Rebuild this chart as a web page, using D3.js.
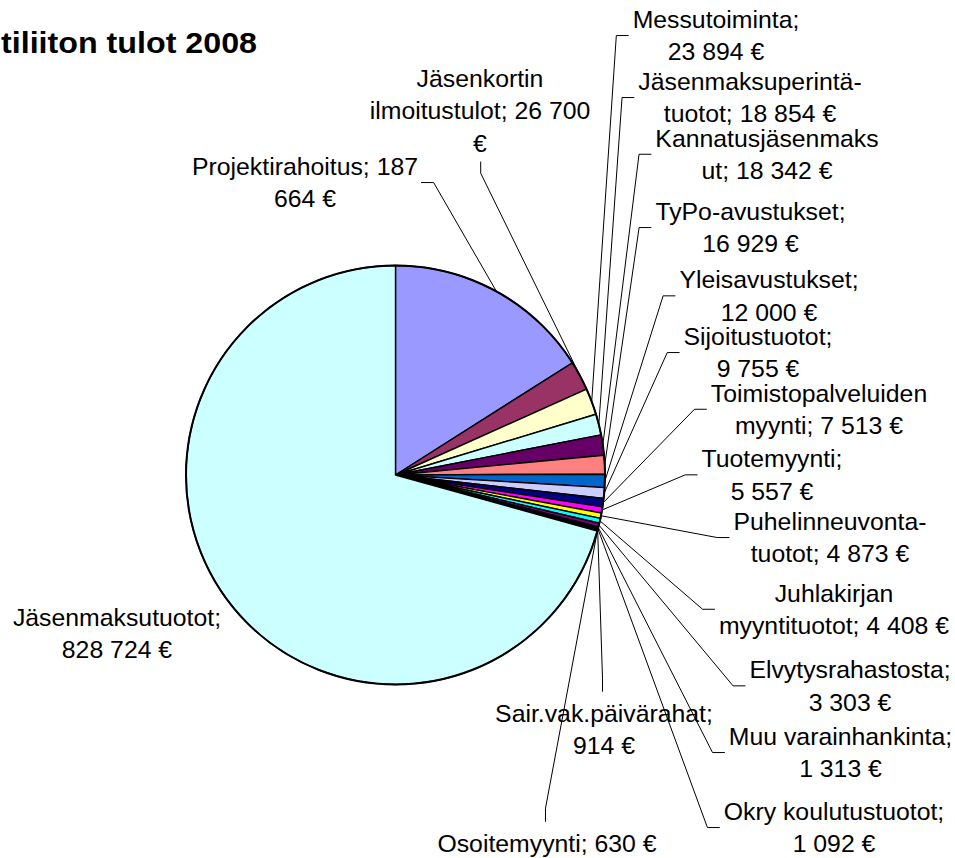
<!DOCTYPE html>
<html>
<head>
<meta charset="utf-8">
<script src="https://cdn.jsdelivr.net/npm/d3@7"></script>
<style>
  body { margin: 0; background: #fff; }
  text { font-family: "Liberation Sans", Arial, sans-serif; }
</style>
</head>
<body>
<div id="chart"></div>
<script>
var svgWidth = 955;
var svgHeight = 858;

// slices, clockwise from 12 o'clock
var categories = ["Projektirahoitus", "Jäsenkortin ilmoitustulot", "Messutoiminta",
    "Jäsenmaksuperintätuotot", "Kannatusjäsenmaksut", "TyPo-avustukset", "Yleisavustukset",
    "Sijoitustuotot", "Toimistopalveluiden myynti", "Tuotemyynti", "Puhelinneuvontatuotot",
    "Juhlakirjan myyntituotot", "Elvytysrahastosta", "Muu varainhankinta", "Okry koulutustuotot",
    "Sair.vak.päivärahat", "Osoitemyynti", "Jäsenmaksutuotot"];
var values = [187664, 26700, 23894, 18854, 18342, 16929, 12000, 9755, 7513, 5557,
    4873, 4408, 3303, 1313, 1092, 914, 630, 828724];

// label text as wrapped in the chart
var labelLines = [
    ["Projektirahoitus; 187", "664 €"],
    ["Jäsenkortin", "ilmoitustulot; 26 700", "€"],
    ["Messutoiminta;", "23 894 €"],
    ["Jäsenmaksuperintä-", "tuotot; 18 854 €"],
    ["Kannatusjäsenmaks", "ut; 18 342 €"],
    ["TyPo-avustukset;", "16 929 €"],
    ["Yleisavustukset;", "12 000 €"],
    ["Sijoitustuotot;", "9 755 €"],
    ["Toimistopalveluiden", "myynti; 7 513 €"],
    ["Tuotemyynti;", "5 557 €"],
    ["Puhelinneuvonta-", "tuotot; 4 873 €"],
    ["Juhlakirjan", "myyntituotot; 4 408 €"],
    ["Elvytysrahastosta;", "3 303 €"],
    ["Muu varainhankinta;", "1 313 €"],
    ["Okry koulutustuotot;", "1 092 €"],
    ["Sair.vak.päivärahat;", "914 €"],
    ["Osoitemyynti; 630 €"],
    ["Jäsenmaksutuotot;", "828 724 €"]
];

var colors = ["#9999FF", "#993366", "#FFFFCC", "#CCFFFF", "#660066", "#FF8080", "#0066CC",
    "#CCCCFF", "#000080", "#FF00FF", "#FFFF00", "#00FFFF", "#800080", "#800000",
    "#008080", "#0000FF", "#00CCFF", "#CCFFFF"];

// label placement: text centre x, first baseline y, side the leader comes from
var labelPos = [
    [305, 175, "left"], [480, 87, "top"], [716, 28, "right"], [750, 90, "right"],
    [767, 146.7, "right"], [750.5, 220, "right"], [769, 288.3, "right"], [758, 345, "right"],
    [819, 401.7, "right"], [772, 467.3, "right"], [830, 530, "right"], [834, 601.7, "right"],
    [850, 678.3, "right"], [840.5, 745, "right"], [834, 820, "right"],
    [604, 721.7, "bottom"], [547, 851.7, "bottom"], [117, 625.7, "none"]
];

var cx = 395.5, cy = 475, radius = 209.5;
var lineH = 32.3;
var fontSize = 24.8;

var svg = d3.select("#chart")
    .append("svg")
    .attr("width", svgWidth)
    .attr("height", svgHeight);

// title (cut off at the left edge in the original)
svg.append("text")
    .attr("x", 1)
    .attr("y", 53)
    .attr("font-size", 30)
    .attr("font-weight", "bold")
    .attr("textLength", 256)
    .attr("lengthAdjust", "spacingAndGlyphs")
    .text("tiliiton tulot 2008");

var pie = d3.pie().sort(null).value(d => d);
var arcs = pie(values);

var arc = d3.arc().innerRadius(0).outerRadius(radius);
var edgeArc = d3.arc().innerRadius(radius).outerRadius(radius);

var pieGroup = svg.append("g")
    .attr("transform", `translate(${cx}, ${cy})`);

pieGroup.selectAll("path")
    .data(arcs)
    .enter()
    .append("path")
    .attr("d", arc)
    .attr("fill", (d, i) => colors[i])
    .attr("stroke", "#000")
    .attr("stroke-width", 1.4)
    .attr("stroke-linejoin", "round");

// heavier outline round the pie
pieGroup.append("circle")
    .attr("r", radius)
    .attr("fill", "none")
    .attr("stroke", "#000")
    .attr("stroke-width", 2);

// labels
var labelGroup = svg.append("g");
var leaderGroup = svg.append("g");

arcs.forEach(function (d, i) {
    var pos = labelPos[i];
    var lines = labelLines[i];
    var t = labelGroup.append("text")
        .attr("text-anchor", "middle")
        .attr("font-size", fontSize)
        .attr("fill", "#000");
    lines.forEach(function (ln, j) {
        t.append("tspan")
            .attr("x", pos[0])
            .attr("y", pos[1] + j * lineH)
            .text(ln);
    });

    if (pos[2] === "none") return;

    var bb = t.node().getBBox();
    var n = lines.length;
    var ax, ay, kx, ky;
    if (pos[2] === "right") {
        ax = bb.x - 4;
        ay = pos[1] + (n - 1) * lineH / 2 - 8.6;
        kx = ax - 12.3; ky = ay;
    } else if (pos[2] === "left") {
        ax = bb.x + bb.width + 3;
        ay = pos[1] + (n - 1) * lineH / 2 - 8.6;
        kx = ax + 12.6; ky = ay;
    } else if (pos[2] === "top") {
        ax = pos[0] + 0.7;
        ay = pos[1] + (n - 1) * lineH + 10;
        kx = ax; ky = ay + 11.6;
    } else {
        ax = pos[0] - 1.5;
        ay = pos[1] - 30;
        kx = ax; ky = ay - 13.5;
    }
    var e = edgeArc.centroid(d);
    leaderGroup.append("polyline")
        .attr("points", [[cx + e[0], cy + e[1]], [kx, ky], [ax, ay]].map(p => p.join(",")).join(" "))
        .attr("fill", "none")
        .attr("stroke", "#000")
        .attr("stroke-width", 1);
});
</script>
</body>
</html>
